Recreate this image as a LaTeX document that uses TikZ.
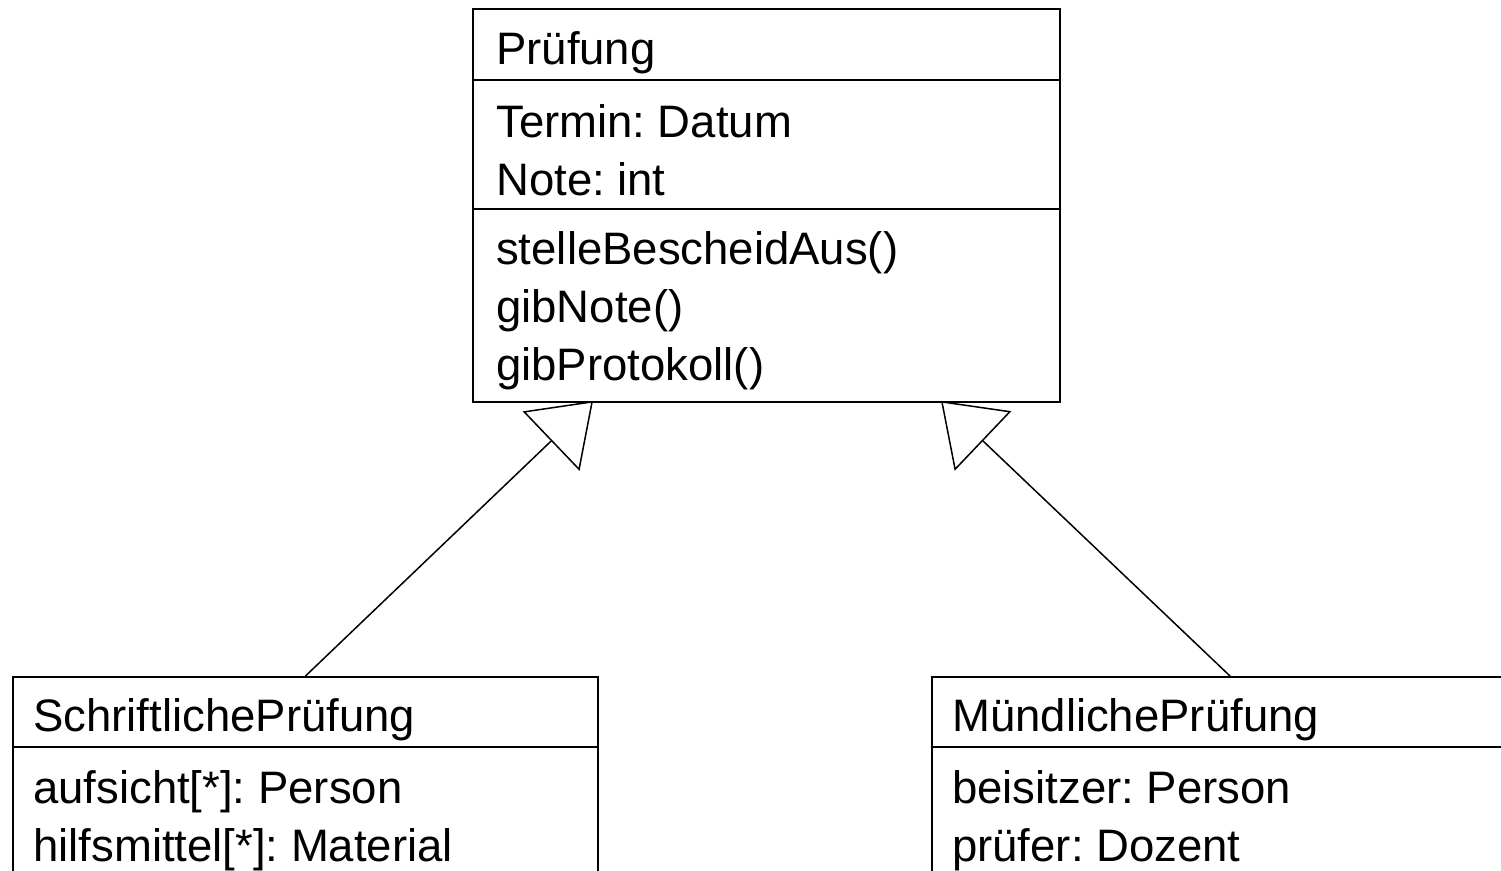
\documentclass[tikz,border=0pt]{standalone}
\usepackage{fontspec}
\setmainfont{Liberation Sans}
\usetikzlibrary{arrows.meta}
\frenchspacing

\tikzset{
  classbox/.style={draw, line width=2pt, rectangle, inner sep=0pt, anchor=north west},
  member/.style={anchor=base west, inner sep=0pt, font=\fontsize{45.5}{58}\selectfont},
  compsep/.style={line width=2pt},
  inherit/.style={line width=1.5pt,
    -{Triangle[fill=white, length=58pt, width=82pt]}}
}

\begin{document}
\begin{tikzpicture}[x=1pt, y=-1pt]
  \useasboundingbox (0,0) rectangle (1501,870);
  \clip (0,0) rectangle (1501,870);

  % superclass
  \node[classbox, minimum width=587pt, minimum height=393pt] (pr) at (472,8) {};
  \draw[compsep] ([yshift=-72pt]pr.north west) -- ([yshift=-72pt]pr.north east);
  \draw[compsep] ([yshift=-201pt]pr.north west) -- ([yshift=-201pt]pr.north east);
  \node[member] (prName) at (496,64) {Prüfung};
  \node[member] (prA1) at (496,137) {Termin: Datum};
  \node[member] (prA2) at (496,195) {Note: int};
  \node[member] (prM1) at (496,264) {stelleBescheidAus()};
  \node[member] (prM2) at (496,322) {gibNote()};
  \node[member] (prM3) at (496,380) {gibProtokoll()};

  % written exam
  \node[classbox, minimum width=585pt, minimum height=300pt] (sp) at (12,676) {};
  \draw[compsep] ([yshift=-71pt]sp.north west) -- ([yshift=-71pt]sp.north east);
  \node[member] (spName) at (33,731) {SchriftlichePrüfung};
  \node[member] (spA1) at (33,803) {aufsicht[*]: Person};
  \node[member] (spA2) at (33,861) {hilfsmittel[*]: Material};

  % oral exam
  \node[classbox, minimum width=596pt, minimum height=300pt] (mp) at (931,676) {};
  \draw[compsep] ([yshift=-71pt]mp.north west) -- ([yshift=-71pt]mp.north east);
  \node[member] (mpName) at (952,731) {MündlichePrüfung};
  \node[member] (mpA1) at (952,803) {beisitzer: Person};
  \node[member] (mpA2) at (952,861) {prüfer: Dozent};

  % generalisations
  \coordinate (tipL) at (593,401);
  \coordinate (tipR) at (941,401);
  \draw[inherit] (sp.north) -- (tipL);
  \draw[inherit] (mp.north) -- (tipR);
\end{tikzpicture}
\end{document}
